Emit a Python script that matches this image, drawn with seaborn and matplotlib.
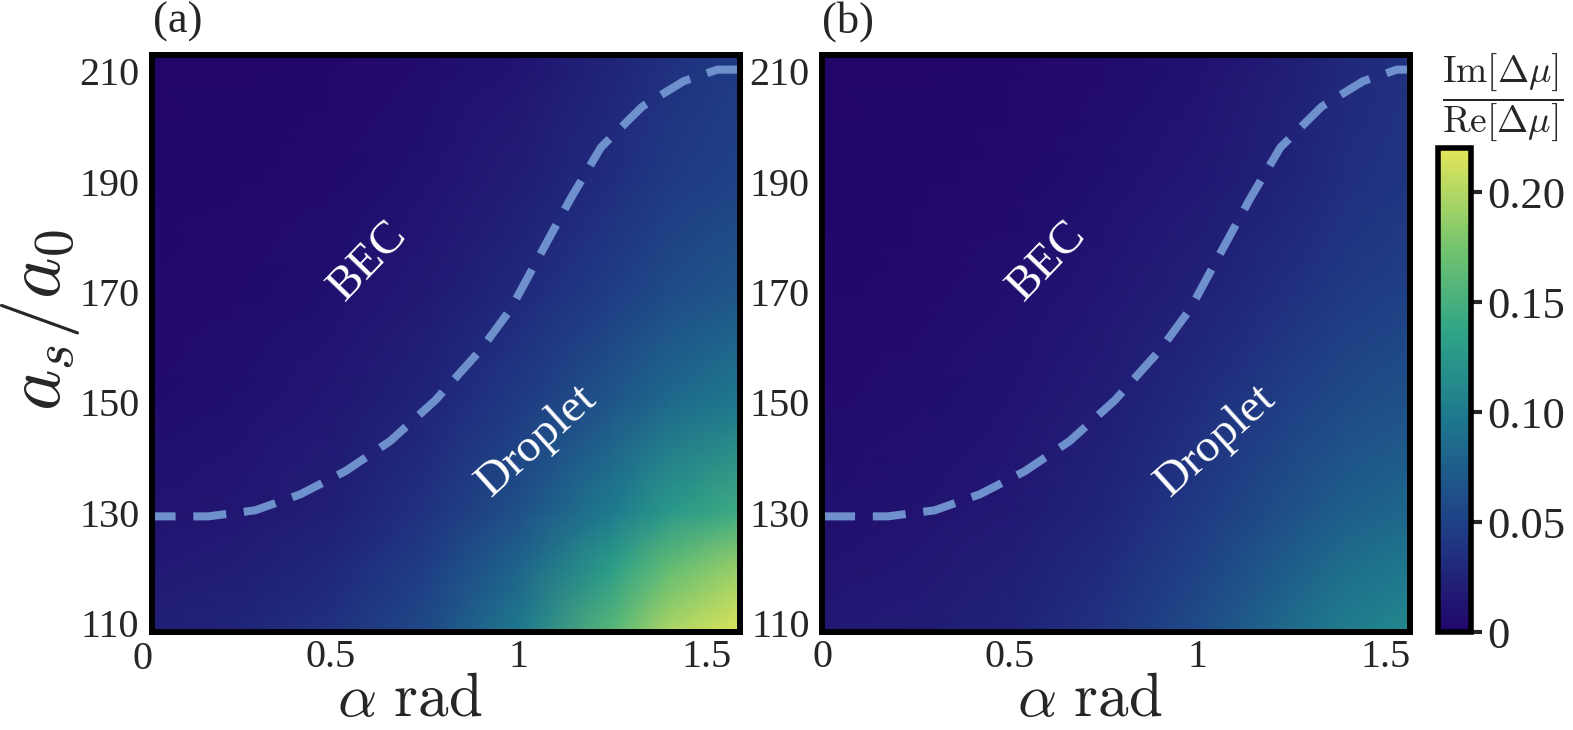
import numpy as np
import matplotlib
matplotlib.use("Agg")
import matplotlib.pyplot as plt
from matplotlib.colors import LinearSegmentedColormap
import seaborn as sns

# ---------------- data ----------------
alpha_grid = [0.0, 0.25, 0.5, 0.75, 1.0, 1.25, 1.4, 1.6]
as_grid = [108.0, 120.0, 130.0, 150.0, 170.0, 190.0, 213.0]

# Im/Re ratio, panel (a): rows follow as_grid, columns follow alpha_grid
ratio_a = [
    [0.022, 0.027, 0.037, 0.058, 0.098, 0.160, 0.198, 0.220],
    [0.016, 0.020, 0.029, 0.047, 0.080, 0.130, 0.165, 0.190],
    [0.012, 0.015, 0.022, 0.037, 0.063, 0.100, 0.126, 0.146],
    [0.006, 0.009, 0.015, 0.026, 0.044, 0.068, 0.085, 0.098],
    [0.003, 0.005, 0.009, 0.017, 0.030, 0.047, 0.059, 0.069],
    [0.001, 0.002, 0.005, 0.011, 0.020, 0.034, 0.044, 0.052],
    [0.000, 0.000, 0.002, 0.006, 0.012, 0.026, 0.036, 0.045],
]
# panel (b)
ratio_b = [
    [0.016, 0.019, 0.025, 0.038, 0.060, 0.088, 0.103, 0.114],
    [0.012, 0.015, 0.021, 0.032, 0.051, 0.075, 0.089, 0.099],
    [0.009, 0.012, 0.017, 0.027, 0.044, 0.064, 0.076, 0.085],
    [0.005, 0.007, 0.012, 0.020, 0.033, 0.049, 0.058, 0.066],
    [0.002, 0.004, 0.008, 0.014, 0.024, 0.036, 0.044, 0.051],
    [0.001, 0.002, 0.004, 0.009, 0.016, 0.027, 0.035, 0.042],
    [0.000, 0.000, 0.002, 0.005, 0.010, 0.021, 0.030, 0.038],
]

# BEC / Droplet boundary (dashed)
boundary_alpha = [0.0, 0.175, 0.30, 0.42, 0.54, 0.66, 0.78, 0.90, 0.98, 1.06,
                  1.14, 1.22, 1.33, 1.44, 1.53, 1.60]
boundary_as = [129.3, 129.3, 130.4, 133.3, 137.5, 143.0, 150.4, 159.5, 166.9,
               177.0, 187.0, 196.2, 203.6, 208.2, 210.3, 210.3]

x_ticks = [0.5, 1.0, 1.5]
x_tick_labels = ["0.5", "1", "1.5"]
y_ticks = [110, 130, 150, 170, 190, 210]
y_tick_labels = ["110", "130", "150", "170", "190", "210"]
cbar_ticks = [0.0, 0.05, 0.10, 0.15, 0.20]
cbar_tick_labels = ["0", "0.05", "0.10", "0.15", "0.20"]
panel_labels = ["(a)", "(b)"]
region_labels = ["BEC", "Droplet"]

# ---------------- style ----------------
sns.set_style("white")
plt.rcParams["font.family"] = ["Liberation Serif", "DejaVu Serif"]
plt.rcParams["mathtext.fontset"] = "cm"

cmap = LinearSegmentedColormap.from_list(
    "bgy",
    [(0.00, "#22066A"), (0.22, "#1F3F86"), (0.45, "#1E7A8E"),
     (0.62, "#2FA487"), (0.78, "#6CC170"), (1.00, "#E3E65A")])
vmin, vmax = 0.0, 0.22

fig = plt.figure(figsize=(15.73, 7.30), dpi=100)
ax_a = fig.add_axes([0.0966, 0.134, 0.3738, 0.791])
ax_b = fig.add_axes([0.5226, 0.134, 0.3738, 0.791])
cax = fig.add_axes([0.9142, 0.134, 0.0210, 0.663])

X, Y = np.meshgrid(np.array(alpha_grid), np.array(as_grid))
xlims = [(0.025, 1.59), (0.0, 1.565)]

mesh = None
for i, (ax, Z) in enumerate(zip([ax_a, ax_b], [ratio_a, ratio_b])):
    mesh = ax.pcolormesh(X, Y, np.array(Z), shading="gouraud", cmap=cmap,
                         vmin=vmin, vmax=vmax, rasterized=True)
    sns.lineplot(x=boundary_alpha, y=boundary_as, ax=ax, color="#6E91CD",
                 linewidth=5.8, sort=False, estimator=None)
    line = ax.get_lines()[-1]
    line.set_dashes([4.1, 2.2])
    line.set_dash_capstyle("butt")

    ax.set_xlim(*xlims[i])
    ax.set_ylim(108.3, 213.0)
    ax.set_yticks(y_ticks, labels=y_tick_labels)
    if i == 0:
        ax.set_xticks(x_ticks, labels=x_tick_labels)
        ax.annotate("0", xy=(0.0, 0.0), xycoords=("data", "axes fraction"),
                    xytext=(0, -6.5), textcoords="offset points",
                    ha="center", va="top", fontsize=29, annotation_clip=False)
    else:
        ax.set_xticks([0.0] + x_ticks, labels=["0"] + x_tick_labels)
    ax.tick_params(axis="both", direction="in", length=8, width=3,
                   labelsize=29, color="black", top=False, right=False)
    ax.tick_params(axis="x", pad=5)
    ax.tick_params(axis="y", pad=9)
    for s in ax.spines.values():
        s.set_linewidth(4.3)
        s.set_color("black")
        s.set_visible(True)
    ax.set_xlabel("")
    ax.set_ylabel("")

    ax.text(0.60, 175.5, region_labels[0], color="white", fontsize=34,
            rotation=46, ha="center", va="center")
    ax.text(1.05, 143.0, region_labels[1], color="white", fontsize=34,
            rotation=42, ha="center", va="center")

cb = fig.colorbar(mesh, cax=cax)
cb.set_ticks(cbar_ticks, labels=cbar_tick_labels)
cb.ax.tick_params(direction="out", length=8, width=3, labelsize=32, pad=4)
cb.outline.set_linewidth(4)
cb.outline.set_edgecolor("black")

# axis labels and panel labels
fig.text(0.026, 1 - 320 / 730, r"$a_s/a_0$", fontsize=57, rotation=90,
         ha="center", va="center")
for xc in [410 / 1573, 1090 / 1573]:
    fig.text(xc, 1 / 730, r"$\alpha\ \mathrm{rad}$", fontsize=44,
             ha="center", va="bottom")
fig.text(178 / 1573, 1 - 22 / 730, panel_labels[0], fontsize=32,
         ha="center", va="center")
fig.text(848 / 1573, 1 - 22 / 730, panel_labels[1], fontsize=32,
         ha="center", va="center")
fig.text(1503 / 1573, 1 - 97 / 730,
         r"$\dfrac{\mathrm{Im}[\Delta\mu]}{\mathrm{Re}[\Delta\mu]}$",
         fontsize=27, ha="center", va="center")

fig.savefig("out.png", dpi=100)
